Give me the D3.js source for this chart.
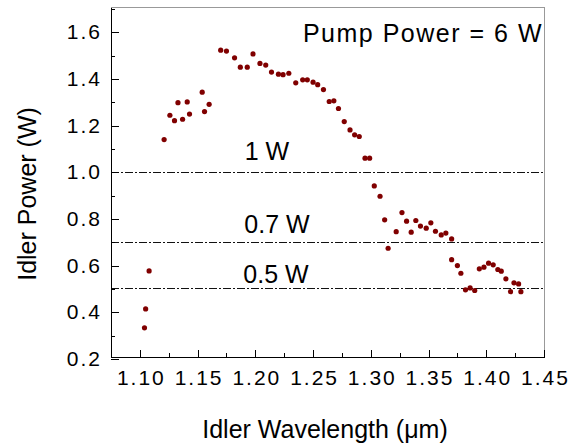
<!DOCTYPE html>
<html>
<head>
<meta charset="utf-8">
<script src="https://cdn.jsdelivr.net/npm/d3@7"></script>
<style>
  body { margin: 0; background: #fff; }
  text { font-family: "Liberation Sans", Arial, sans-serif; fill: #000; }
</style>
</head>
<body>
<div id="plots"></div>
<script>
// idler wavelength (um) and idler power (W)
var wavelength = [1.104, 1.105, 1.108, 1.121, 1.126, 1.130, 1.133, 1.137, 1.141, 1.143,
                  1.154, 1.156, 1.160, 1.170, 1.175, 1.182, 1.187, 1.193, 1.198, 1.204,
                  1.209, 1.214, 1.220, 1.224, 1.229, 1.235, 1.241, 1.245, 1.250, 1.254,
                  1.259, 1.264, 1.268, 1.272, 1.277, 1.282, 1.286, 1.290, 1.295, 1.299,
                  1.303, 1.308, 1.312, 1.315, 1.322, 1.327, 1.331, 1.335, 1.339, 1.343,
                  1.348, 1.352, 1.356, 1.361, 1.365, 1.370, 1.370, 1.375, 1.378, 1.382,
                  1.386, 1.390, 1.394, 1.398, 1.402, 1.406, 1.410, 1.413, 1.417, 1.421,
                  1.424, 1.428, 1.430];
var power = [0.333, 0.414, 0.577, 1.140, 1.244, 1.221, 1.298, 1.227, 1.301, 1.249,
             1.343, 1.260, 1.291, 1.523, 1.519, 1.490, 1.450, 1.450, 1.507, 1.466,
             1.459, 1.429, 1.420, 1.418, 1.424, 1.383, 1.396, 1.396, 1.386, 1.375,
             1.354, 1.303, 1.306, 1.273, 1.217, 1.181, 1.160, 1.153, 1.060, 1.060,
             0.941, 0.897, 0.796, 0.674, 0.745, 0.827, 0.790, 0.743, 0.793, 0.769,
             0.760, 0.783, 0.747, 0.731, 0.739, 0.714, 0.625, 0.600, 0.567, 0.496,
             0.504, 0.493, 0.586, 0.593, 0.610, 0.603, 0.583, 0.576, 0.543, 0.488,
             0.526, 0.521, 0.488];

// reference levels and their labels
var levels = [1.0, 0.7, 0.5];
var levelLabels = ["1 W", "0.7 W", "0.5 W"];

// tick labels
var xTicks = [1.10, 1.15, 1.20, 1.25, 1.30, 1.35, 1.40, 1.45];
var xMinor = [1.075, 1.125, 1.175, 1.225, 1.275, 1.325, 1.375, 1.425];
var yTicks = [0.2, 0.4, 0.6, 0.8, 1.0, 1.2, 1.4, 1.6];
var yMinor = [0.3, 0.5, 0.7, 0.9, 1.1, 1.3, 1.5, 1.7];

var width = 570;
var height = 445;
var plot = {left: 111, right: 544, top: 7, bottom: 357};

var svg = d3.select("#plots")
            .append("svg")
            .attr("width", width)
            .attr("height", height);

var x = d3.scaleLinear().domain([1.075, 1.45]).range([plot.left, plot.right]);
var y = d3.scaleLinear().domain([0.208, 1.708]).range([plot.bottom, plot.top]);

// top and right frame (grey)
svg.append("path")
   .attr("d", "M" + plot.left + "," + plot.top + "H" + plot.right + "V" + plot.bottom)
   .attr("fill", "none")
   .attr("stroke", "#999")
   .attr("stroke-width", 1)
   .attr("shape-rendering", "crispEdges");

// reference lines
svg.selectAll("line.level")
   .data(levels)
   .enter()
   .append("line")
   .attr("class", "level")
   .attr("x1", plot.left)
   .attr("x2", plot.right)
   .attr("y1", function(d) { return y(d); })
   .attr("y2", function(d) { return y(d); })
   .attr("stroke", "#111")
   .attr("stroke-width", 1)
   .attr("stroke-dasharray", "8,2,2,2")
   .attr("shape-rendering", "crispEdges");

// level labels
var labelPos = [{lx: 267, ly: 160}, {lx: 277, ly: 233}, {lx: 276, ly: 283}];
svg.selectAll("text.level-label")
   .data(levelLabels)
   .enter()
   .append("text")
   .attr("class", "level-label")
   .text(function(d) { return d; })
   .attr("x", function(d, i) { return labelPos[i].lx; })
   .attr("y", function(d, i) { return labelPos[i].ly; })
   .attr("text-anchor", "middle")
   .attr("font-size", 25);

// minor ticks
svg.append("g")
   .attr("transform", "translate(0," + plot.bottom + ")")
   .call(d3.axisBottom(x).tickValues(xMinor).tickSize(-4).tickSizeOuter(0).tickFormat(""))
   .call(function(g) { g.select(".domain").remove(); });
svg.append("g")
   .attr("transform", "translate(" + plot.left + ",0)")
   .call(d3.axisLeft(y).tickValues(yMinor).tickSize(-4).tickSizeOuter(0).tickFormat(""))
   .call(function(g) { g.select(".domain").remove(); });

// major axes
var xAxis = svg.append("g")
   .attr("transform", "translate(0," + plot.bottom + ")")
   .call(d3.axisBottom(x).tickValues(xTicks).tickSize(-7).tickSizeOuter(0)
           .tickPadding(13).tickFormat(d3.format(".2f")));
xAxis.selectAll("text")
   .attr("font-size", 21)
   .attr("font-family", null)
   .attr("letter-spacing", 2)
   .attr("dx", 1);

var yAxis = svg.append("g")
   .attr("transform", "translate(" + plot.left + ",0)")
   .call(d3.axisLeft(y).tickValues(yTicks).tickSize(-8).tickSizeOuter(0)
           .tickPadding(9).tickFormat(d3.format(".1f")));
yAxis.selectAll("text")
   .attr("font-size", 21)
   .attr("font-family", null)
   .attr("letter-spacing", 2);

svg.selectAll(".domain").attr("stroke", "#000");
svg.selectAll(".tick line, .domain").attr("shape-rendering", "crispEdges");

// data points
svg.selectAll("circle")
   .data(wavelength)
   .enter()
   .append("circle")
   .attr("cx", function(d) { return x(d); })
   .attr("cy", function(d, i) { return y(power[i]); })
   .attr("r", 2.6)
   .attr("fill", "#800000");

// annotation
svg.append("text")
   .text("Pump Power = 6 W")
   .attr("text-anchor", "end")
   .attr("x", 543)
   .attr("y", 42)
   .attr("letter-spacing", 1.5)
   .attr("font-size", 25);

// axis titles
svg.append("text")
   .text("Idler Wavelength (\u03bcm)")
   .attr("text-anchor", "middle")
   .attr("x", 325)
   .attr("y", 438)
   .attr("font-size", 25);

svg.append("text")
   .text("Idler Power (W)")
   .attr("text-anchor", "middle")
   .attr("transform", "translate(36,194) rotate(-90)")
   .attr("font-size", 25);
</script>
</body>
</html>
